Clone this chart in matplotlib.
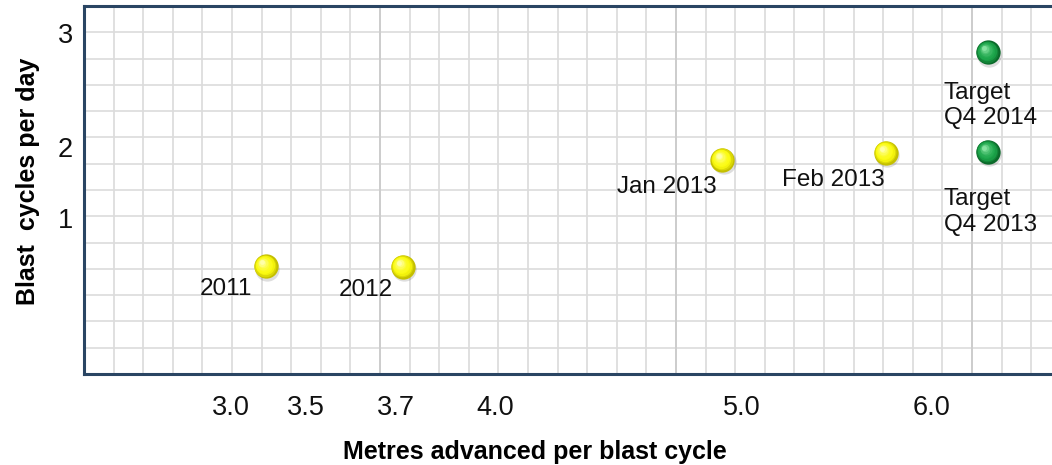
import numpy as np
import matplotlib.pyplot as plt
from matplotlib.colors import to_rgb
from matplotlib.transforms import offset_copy

plt.rcParams['font.family'] = ['Liberation Sans', 'DejaVu Sans']

# blast progress points
labels = ["2011", "2012", "Jan 2013", "Feb 2013", "Target\nQ4 2013", "Target\nQ4 2014"]
metres = [3.23, 3.72, 4.92, 5.76, 6.30, 6.30]
cycles = [0.32, 0.31, 1.82, 1.92, 1.93, 2.83]
is_target = [False, False, False, False, True, True]

x_ticks = [3.0, 3.5, 3.7, 4.0, 5.0, 6.0]
x_tick_labels = ["3.0", "3.5", "3.7", "4.0", "5.0", "6.0"]
y_ticks = [1, 2, 3]
y_tick_labels = ["1", "2", "3"]

# uneven axis spacing (pixels from the left / bottom edge of the plot)
x_tick_pos = [147, 222, 312, 411, 658, 847]
y_tick_pos = [156, 227, 341]
W, H = 968, 368

# label offsets in pixels, alignment
label_style = [(-13, -23, 'right'), (-10, -23, 'right'), (-5, -27, 'right'),
               (-1, -27, 'right'), (-44, -60, 'left'), (-44, -53, 'left')]


def piecewise(src, dst):
    src = np.asarray(src, float)
    dst = np.asarray(dst, float)

    def f(v):
        v = np.asarray(v, float)
        out = np.interp(v, src, dst)
        lo = dst[0] + (v - src[0]) * (dst[1] - dst[0]) / (src[1] - src[0])
        hi = dst[-1] + (v - src[-1]) * (dst[-1] - dst[-2]) / (src[-1] - src[-2])
        out = np.where(v < src[0], lo, out)
        out = np.where(v > src[-1], hi, out)
        return out
    return f


fig = plt.figure(figsize=(10.52, 4.65), dpi=100)
rect = [84 / 1052, (465 - 374) / 465, W / 1052, H / 465]

# graph paper background
bg = fig.add_axes(rect, zorder=0)
bg.set_xlim(0, W)
bg.set_ylim(0, H)
for xv in np.arange(1, 33) * 29.6:
    bg.axvline(xv, color='#dadada', lw=1.2)
for yv in np.arange(1, 14) * (H / 14):
    bg.axhline(yv, color='#dcdcdc', lw=1.2)
for xv in [296, 592, 888]:
    bg.axvline(xv, color='#cdcdcd', lw=1.4)
bg.set_xticks([])
bg.set_yticks([])
for s in bg.spines.values():
    s.set_visible(False)

ax = fig.add_axes(rect, zorder=1)
ax.patch.set_alpha(0)
ax.set_xscale('function', functions=(piecewise(x_ticks, x_tick_pos), piecewise(x_tick_pos, x_ticks)))
ax.set_yscale('function', functions=(piecewise(y_ticks, y_tick_pos), piecewise(y_tick_pos, y_ticks)))
ax.set_xlim(piecewise(x_tick_pos, x_ticks)(0), piecewise(x_tick_pos, x_ticks)(W))
ax.set_ylim(piecewise(y_tick_pos, y_ticks)(0), piecewise(y_tick_pos, y_ticks)(H))

ax.set_xticks(x_ticks, x_tick_labels)
ax.set_yticks(y_ticks, y_tick_labels)
ax.minorticks_off()
ax.tick_params(axis='x', length=0, pad=15, labelsize=19.5, labelcolor='#111111')
ax.tick_params(axis='y', length=0, pad=8, labelsize=19.5, labelcolor='#111111')

for side in ['left', 'top', 'bottom']:
    ax.spines[side].set_color('#2a4563')
    ax.spines[side].set_linewidth(2.2)
ax.spines['right'].set_visible(False)

ax.set_xlabel("Metres advanced per blast cycle", fontsize=18, fontweight='bold', va='center')
ax.xaxis.set_label_coords((535 - 84) / W, (374 - 452) / H)
ax.set_ylabel("Blast  cycles per day", fontsize=18, fontweight='bold', va='center')
ax.yaxis.set_label_coords((28 - 84) / W, (374 - 181) / H)

# shaded spheres
yellow = ('#c4bf00', '#fbfb10', '#ffffa8')
green = ('#0b6a2a', '#1ca64a', '#86e2a0')


def sphere(x, y, colors, d=17.5):
    dark, mid, light = (np.array(to_rgb(c)) for c in colors)
    shadow = offset_copy(ax.transData, fig=fig, x=1.5, y=-2.5, units='dots')
    ax.plot([x], [y], 'o', ms=d, color='black', alpha=0.13, mec='none', transform=shadow, zorder=3)
    n = 9
    for k in range(n):
        t = k / (n - 1)
        if t < 0.3:
            c = dark + (mid - dark) * (t / 0.3)
        else:
            c = mid + (light - mid) * ((t - 0.3) / 0.7) ** 1.8
        tr = offset_copy(ax.transData, fig=fig, x=-3.5 * t, y=4 * t, units='dots')
        ax.plot([x], [y], 'o', ms=d * (1 - 0.8 * t), color=c, mec='none',
                transform=tr, zorder=4 + k * 0.01)


for lab, xv, yv, tgt, (dx, dy, ha) in zip(labels, metres, cycles, is_target, label_style):
    sphere(xv, yv, green if tgt else yellow)
    ax.annotate(lab, (xv, yv), xytext=(dx * 0.72, dy * 0.72), textcoords='offset points',
                ha=ha, va='center', fontsize=17.5, color='#111111', linespacing=1.2, zorder=6)

fig.savefig("out.png", dpi=100)
